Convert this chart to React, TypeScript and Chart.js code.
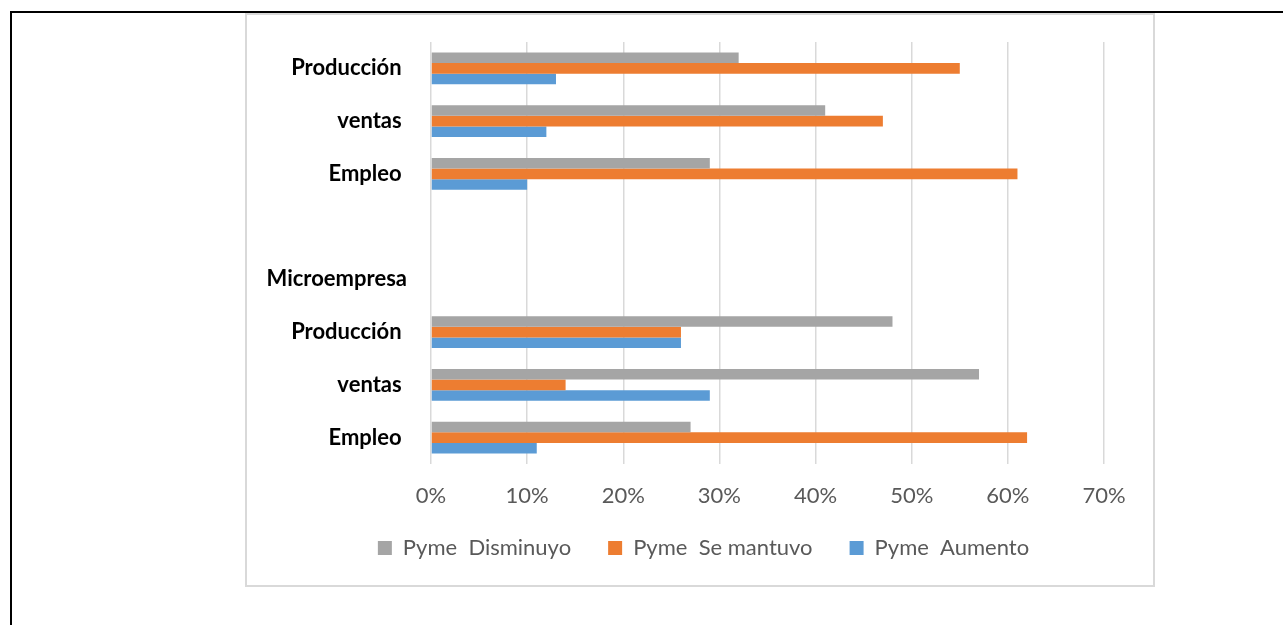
import React, { useEffect, useRef } from "react";
import { Chart, registerables } from "chart.js";

Chart.register(...registerables);

const categories = ["Producción ", "ventas ", "Empleo ", "", "Microempresa", "Producción ", "ventas ", "Empleo "];
const disminuyo = [32, 41, 29, null, null, 48, 57, 27];
const seMantuvo = [55, 47, 61, null, null, 26, 14, 62];
const aumento = [13, 12, 10, null, null, 26, 29, 11];
const seriesNames = ["Pyme  Disminuyo", "Pyme  Se mantuvo", "Pyme  Aumento"];
const seriesColors = ["#A5A5A5", "#ED7D31", "#5B9BD5"];
const xMin = 0;
const xMax = 70;
const xStep = 10;

const legendShift = {
  id: "legendShift",
  afterLayout(chart: any) {
    const lg = chart.legend;
    if (!lg) return;
    lg.top -= 12;
    lg.bottom -= 12;
    lg.left += 28;
    lg.right += 28;
  },
};

export default function App() {
  const canvasRef = useRef<HTMLCanvasElement | null>(null);

  useEffect(() => {
    const canvas = canvasRef.current;
    if (!canvas) return;
    const values = [disminuyo, seMantuvo, aumento];
    const chart = new Chart(canvas, {
      type: "bar",
      data: {
        labels: categories,
        datasets: values.map((v, i) => ({
          label: seriesNames[i],
          data: v,
          backgroundColor: seriesColors[i],
          borderWidth: 0,
          barPercentage: 1,
          categoryPercentage: 0.605,
        })),
      },
      plugins: [legendShift],
      options: {
        indexAxis: "y",
        responsive: false,
        animation: false,
        devicePixelRatio: 1,
        layout: { padding: { left: 0, right: 49, top: 27, bottom: 4 } },
        plugins: {
          tooltip: { enabled: false },
          legend: {
            position: "bottom",
            labels: {
              boxWidth: 14,
              boxHeight: 14,
              padding: 37,
              color: "#595959",
              font: { family: "Lato", size: 22 },
            },
          },
        },
        scales: {
          x: {
            min: xMin,
            max: xMax,
            border: { display: false },
            grid: { color: "#D9D9D9", lineWidth: 1.5, drawTicks: false },
            ticks: {
              stepSize: xStep,
              padding: 19,
              color: "#595959",
              font: { family: "Lato", size: 22 },
              callback: (v: any) => v + "%",
            },
            afterFit: (scale: any) => {
              scale.height = 48;
              scale.paddingLeft = 0;
              scale.paddingRight = 0;
            },
          },
          y: {
            border: { display: false },
            grid: { display: false, drawTicks: false },
            ticks: {
              padding: 24,
              color: "#000000",
              font: { family: "Lato", size: 22, weight: "bold" },
              autoSkip: false,
            },
            afterFit: (scale: any) => {
              scale.width = 184;
              scale.paddingTop = 0;
              scale.paddingBottom = 0;
            },
          },
        },
      },
    } as any);
    return () => chart.destroy();
  }, []);

  return (
    <div style={{ position: "absolute", left: 0, top: 0, width: 1283, height: 625, background: "#fff" }}>
      <div
        style={{
          position: "absolute",
          left: 10,
          top: 11,
          width: 1273,
          height: 614,
          borderTop: "2px solid #000",
          borderLeft: "2px solid #000",
          boxSizing: "border-box",
        }}
      />
      <div
        style={{
          position: "absolute",
          left: 245,
          top: 13,
          width: 910,
          height: 574,
          border: "2px solid #D9D9D9",
          boxSizing: "border-box",
          background: "#fff",
        }}
      >
        <canvas ref={canvasRef} width={906} height={570} style={{ display: "block" }} />
      </div>
    </div>
  );
}
